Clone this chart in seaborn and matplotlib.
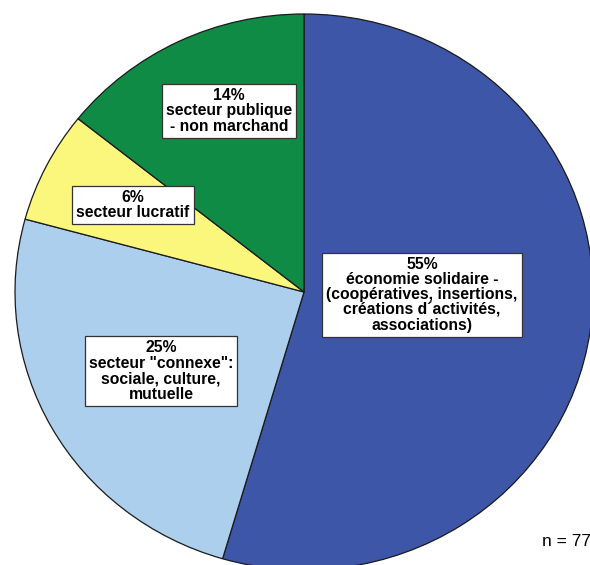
import matplotlib
matplotlib.use("Agg")
import matplotlib.pyplot as plt
import seaborn as sns

sns.set_theme(style="white")
plt.rcParams['font.family'] = ['Liberation Sans', 'DejaVu Sans']

categories = ["économie solidaire -\n(coopératives, insertions,\ncréations d\u00b4activités,\nassociations)",
              "secteur \"connexe\":\nsociale, culture,\nmutuelle",
              "secteur lucratif",
              "secteur publique\n- non marchand"]
counts = [42, 19, 5, 11]
percent_labels = ["55%", "25%", "6%", "14%"]
colors = ["#3D56A8", "#ABCFEC", "#FBF67C", "#0F8B45"]
n_total = 77

W, H = 590, 565
fig = plt.figure(figsize=(W / 100, H / 100), dpi=100)
ax = fig.add_axes([0, 0, 1, 1])
cx, cy, rx, ry = 304, 292, 289, 278

wedges, _ = ax.pie(counts, colors=colors, startangle=90, counterclock=False,
                   radius=1, center=(0, 0),
                   wedgeprops=dict(edgecolor="#1a1a1a", linewidth=0.9))
ax.set_xlim((0 - cx) / rx, (W - cx) / rx)
ax.set_ylim((cy - H) / ry, (cy - 0) / ry)
ax.set_aspect('auto')
ax.axis('off')

# label box centers (pixels)
label_pos = [(422, 295), (161, 371), (133, 205), (229, 111)]
for (px, py), cat, pct in zip(label_pos, categories, percent_labels):
    ax.text((px - cx) / rx, (cy - py) / ry, pct + "\n" + cat,
            ha='center', va='center', fontsize=11.3, fontweight='bold',
            linespacing=1.04, color='black',
            bbox=dict(boxstyle='square,pad=0.25', facecolor='white',
                      edgecolor='#333333', linewidth=0.9))

ax.text((W + 1 - cx) / rx, (cy - 541) / ry, f"n = {n_total}", ha='right', va='center',
        fontsize=12.5, color='black')

fig.savefig("out.png", dpi=100)
